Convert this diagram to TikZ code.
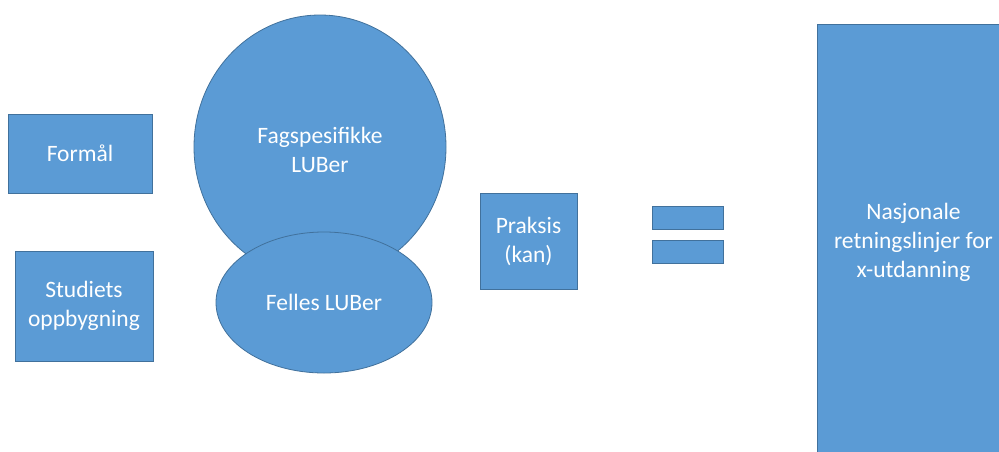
\documentclass[tikz,border=0pt]{standalone}
\usepackage{fontspec}
\setmainfont{Carlito}
\usetikzlibrary{shapes.geometric}
\definecolor{boxfill}{HTML}{5B9BD5}
\definecolor{boxline}{HTML}{41719C}
\tikzset{
  shapebase/.style={fill=boxfill, draw=boxline, line width=0.8pt, text=white,
    font=\fontsize{23.5}{29}\selectfont, align=center, inner sep=0pt},
  boxnode/.style={shapebase, rectangle},
  ellnode/.style={shapebase, ellipse}
}
\begin{document}
\begin{tikzpicture}[x=1pt,y=-1pt]
\useasboundingbox (0,0) rectangle (999,451);
\node[boxnode, minimum width=144pt, minimum height=79pt] (formal) at (80,153.5) {Formål};
\node[boxnode, minimum width=138pt, minimum height=110pt] (studiets) at (84,306) {Studiets\\oppbygning};
\node[ellnode, minimum width=252pt, minimum height=264pt] (fag) at (320,147) {};
\node at (320,150) [text=white, font=\fontsize{23.5}{29}\selectfont, align=center] (fagtext) {Fagspesifikke\\LUBer};
\node[ellnode, minimum width=216pt, minimum height=141pt] (felles) at (324,302.5) {Felles LUBer};
\node[boxnode, minimum width=97pt, minimum height=96pt] (praksis) at (528.5,241) {Praksis\\(kan)};
\node[boxnode, minimum width=71pt, minimum height=23pt] (eq1) at (687.5,217.5) {};
\node[boxnode, minimum width=71pt, minimum height=23pt] (eq2) at (687.5,251.5) {};
\node[boxnode, minimum width=193pt, minimum height=436pt] (nasjonale) at (913.5,242) {Nasjonale\\retningslinjer for\\x-utdanning};
\end{tikzpicture}
\end{document}
